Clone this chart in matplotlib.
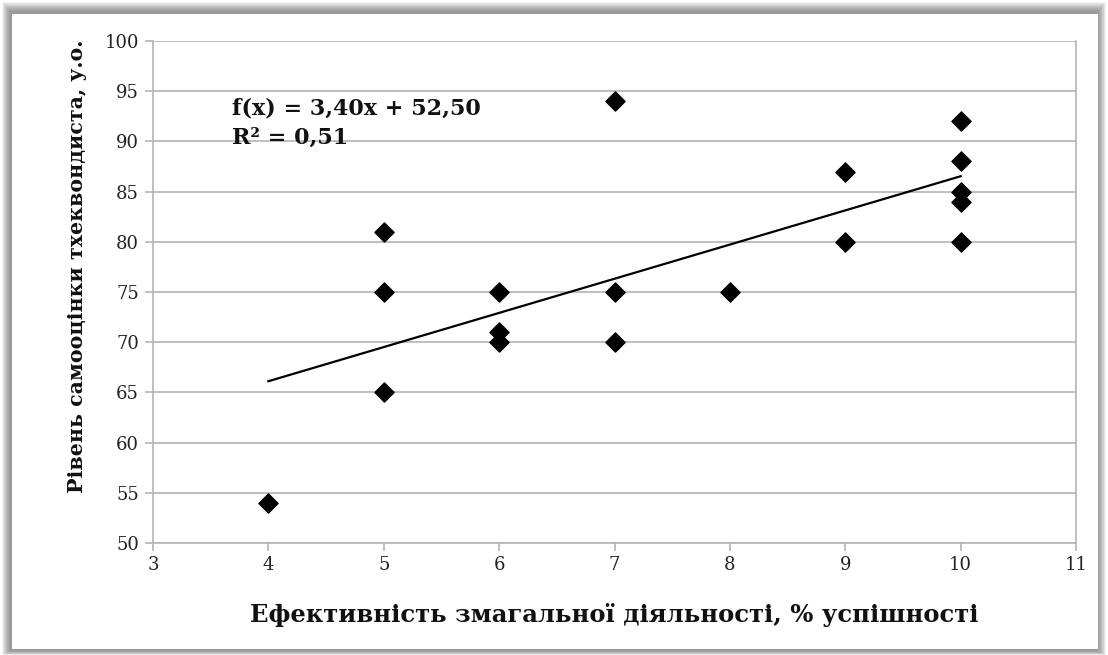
import matplotlib
matplotlib.use("Agg")
import matplotlib.pyplot as plt
import numpy as np
from matplotlib.patches import Rectangle

x_vals = [4, 5, 5, 5, 6, 6, 6, 7, 7, 7, 8, 9, 9, 10, 10, 10, 10, 10]
y_vals = [54, 81, 75, 65, 75, 71, 70, 94, 75, 70, 75, 87, 80, 92, 88, 85, 84, 80]
x_ticks = [3, 4, 5, 6, 7, 8, 9, 10, 11]
y_ticks = [50, 55, 60, 65, 70, 75, 80, 85, 90, 95, 100]
eq_text = "f(x) = 3,40x + 52,50\nR² = 0,51"
x_label = "Ефективність змагальної діяльності, % успішності"
y_label = "Рівень самооцінки тхеквондиста, у.о."

plt.rcParams['font.family'] = ['DejaVu Serif']

fig = plt.figure(figsize=(11.08, 6.55), dpi=100)
fig.patch.set_facecolor('white')

# shadow frame
W, H = 1108, 655
for i in range(14):
    fig.patches.append(Rectangle(((2 + i*0.6)/W, (0 + i*0.3)/H), (W - 4 - i*1.2)/W, (H - 2 - i*1.0)/H,
                                 transform=fig.transFigure, facecolor='#555555', alpha=0.06,
                                 edgecolor='none', zorder=0))
fig.patches.append(Rectangle((12/W, 6/H), (W-22)/W, (H-20)/H, transform=fig.transFigure,
                             facecolor='white', edgecolor='none', zorder=1))

ax = fig.add_axes([153/W, 1-543/H, (1076-153)/W, (543-41)/H])
ax.set_zorder(2)
ax.set_facecolor('none')

ax.set_xlim(3, 11)
ax.set_ylim(50, 100)
ax.set_xticks(x_ticks)
ax.set_yticks(y_ticks)
ax.grid(axis='y', color='#b4b4b4', linewidth=1.2)
ax.set_axisbelow(True)
ax.spines['top'].set_visible(False)
for s in ['left', 'bottom', 'right']:
    ax.spines[s].set_color('#b4b4b4')
    ax.spines[s].set_linewidth(1.2)
ax.tick_params(axis='both', colors='#b4b4b4', labelcolor='#222222', labelsize=13, length=6, width=1.2)
ax.tick_params(axis='x', pad=3)
ax.tick_params(axis='y', pad=4)

xa = np.array(x_vals, dtype=float)
ya = np.array(y_vals, dtype=float)
k, b = np.polyfit(xa, ya, 1)
xl = np.array([xa.min(), xa.max()])
ax.plot(xl, k*xl + b, color='black', linewidth=1.6, zorder=3)
ax.scatter(xa, ya, marker='D', s=95, color='black', zorder=4, clip_on=False)

ax.text(232/W, 1-123/H, eq_text, transform=fig.transFigure, fontsize=16, fontweight='bold',
        va='center', ha='left', linespacing=1.45, color='#111111')

ax.set_xlabel(x_label, fontsize=17.5, fontweight='bold', labelpad=21, color='#111111')
ax.set_ylabel(y_label, fontsize=14.8, fontweight='bold', color='#111111')
ax.yaxis.set_label_coords(-0.072, 0.552)

fig.savefig("out.png", dpi=100)
